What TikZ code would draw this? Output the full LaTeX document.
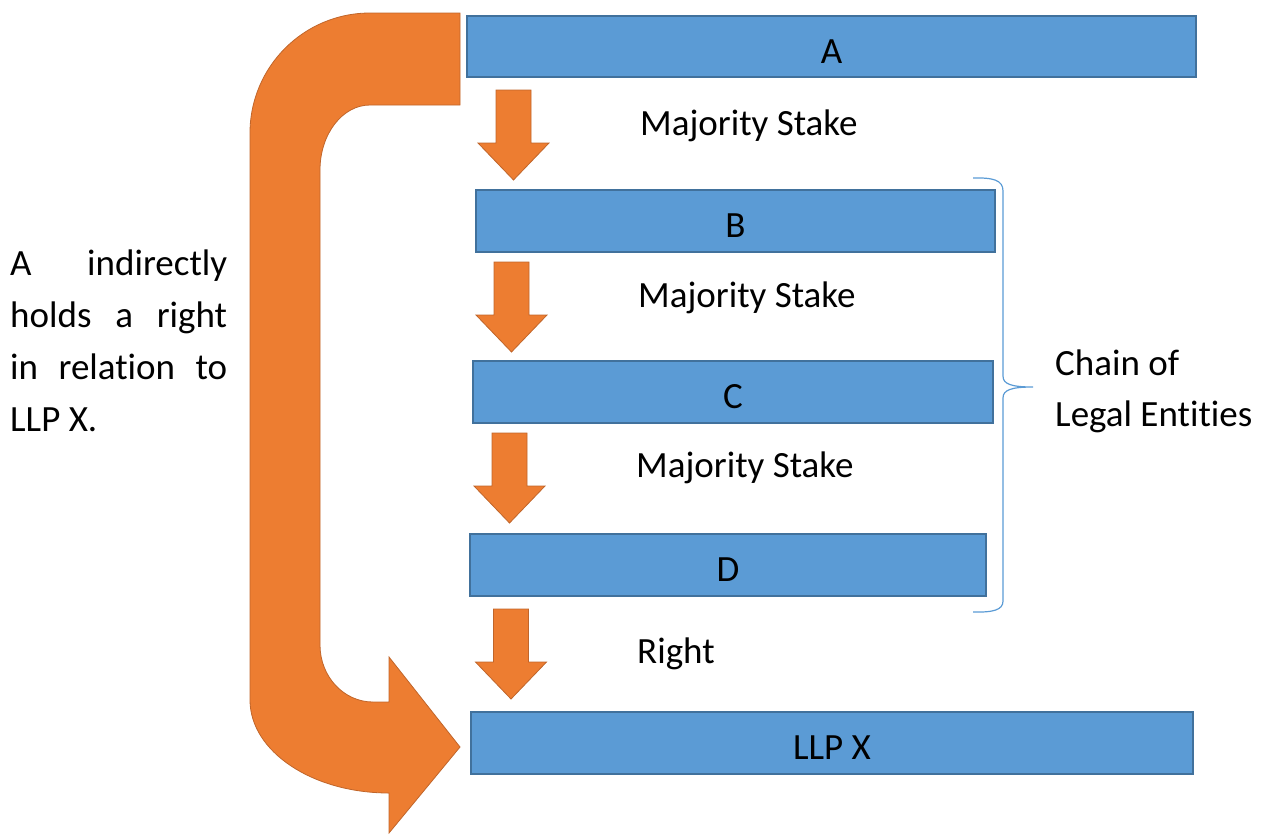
\documentclass[tikz,border=0pt]{standalone}
\usepackage{fontspec}
\setmainfont{Carlito}[Ligatures=NoCommon]
\definecolor{entityfill}{HTML}{5B9BD5}
\definecolor{entityline}{HTML}{41719C}
\definecolor{flowfill}{HTML}{ED7D31}
\definecolor{flowline}{HTML}{C0652A}
\tikzset{
  entity/.style={draw=entityline, fill=entityfill, line width=2pt, rectangle,
    inner sep=0pt, text height=33pt, text depth=0pt, font=\fontsize{37}{52}\selectfont},
  caption/.style={inner sep=0pt, anchor=base west, font=\fontsize{37}{52}\selectfont},
  flowshape/.style={fill=flowfill, draw=flowline, line width=0.8pt, line join=miter},
  stakearrow/.pic={
    \path[flowshape] (0,0) -- (-35.5,-37) -- (-17.5,-37) -- (-17.5,-90)
      -- (17.5,-90) -- (17.5,-37) -- (35.5,-37) -- cycle;
  },
}
\begin{document}
\begin{tikzpicture}[x=1pt, y=-1pt]
\useasboundingbox (0,0) rectangle (1268,836);

% entities in the chain
\node[entity, minimum width=729pt, minimum height=61pt] (boxA) at (831.5,46.5) {A};
\node[entity, minimum width=519pt, minimum height=62pt] (boxB) at (735.5,221) {B};
\node[entity, minimum width=520pt, minimum height=62pt] (boxC) at (733,392) {C};
\node[entity, minimum width=516pt, minimum height=62pt] (boxD) at (728,565) {D};
\node[entity, minimum width=722pt, minimum height=62pt] (boxX) at (832,743) {LLP X};

% block arrows between the entities
\pic (arrAB) at (513.5,180) {stakearrow};
\pic (arrBC) at (511.5,352) {stakearrow};
\pic (arrCD) at (509.5,523) {stakearrow};
\pic (arrDX) at (511,699) {stakearrow};

\node[caption] (lblAB) at (640,135) {Majority Stake};
\node[caption] (lblBC) at (638,307) {Majority Stake};
\node[caption] (lblCD) at (636,477) {Majority Stake};
\node[caption] (lblDX) at (637,663) {Right};

% brace grouping B, C and D
\coordinate (braceTop) at (973,178);
\coordinate (braceTip) at (1033,387);
\coordinate (braceBot) at (973,612);
\draw[entityfill, line width=1.2pt]
  (braceTop) .. controls (993,177.5) and (1003,180) .. (1003,191)
  -- (1003,376) .. controls (1003,384) and (1011,387) .. (braceTip)
  .. controls (1011,387) and (1003,390) .. (1003,398)
  -- (1003,601) .. controls (1003,610) and (993,612.5) .. (braceBot);
\node[caption] (chain) at (1055,375) {Chain of};
\node[caption] (legal) at (1055,426) {Legal Entities};

% U-turn arrow from A down to LLP X
\path[flowshape]
  (460,13) -- (370,13) .. controls (303.8,13) and (250,66.8) .. (250,133)
  -- (250,700) .. controls (250,751.3) and (312.3,793) .. (389,793)
  -- (389,833) -- (460,747) -- (389,657) -- (389,702) -- (373,702)
  .. controls (343.7,702) and (320,676.5) .. (320,645)
  -- (320,170) .. controls (320,134.1) and (342.4,105) .. (370,105)
  -- (460,105) -- cycle;

% explanatory note
\node[caption, text width=217pt, align=justify] (note) at (10,275)
  {A indirectly\linebreak holds a right\linebreak in relation to\linebreak LLP X.};
\end{tikzpicture}
\end{document}
